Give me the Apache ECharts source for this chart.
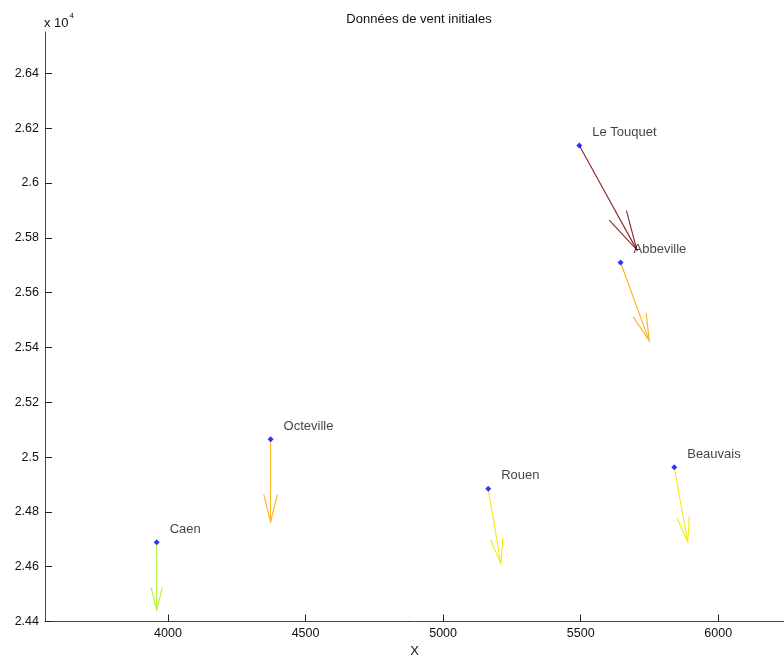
<!DOCTYPE html>
<html>
<head>
<meta charset="utf-8">
<script src="https://cdn.jsdelivr.net/npm/echarts@6/dist/echarts.min.js"></script>
<style>
  html, body { margin: 0; padding: 0; background: #fff; }
  #chart { width: 784px; height: 660px; }
</style>
</head>
<body>
<div id="chart"></div>
<script>
// stations, positions (X, Y) and wind vectors (U, V)
var stations = ['Caen', 'Octeville', 'Rouen', 'Beauvais', 'Le Touquet', 'Abbeville'];
var posX = [3959, 4373, 5164, 5840, 5495, 5645];
var posY = [24689, 25065, 24884, 24963, 26137, 25710];
var windU = [0, 0, 46, 49, 209, 104];
var windV = [-247, -301, -272, -272, -381, -285];
var arrowColors = ['#b2f52a', '#ffb41e', '#f7e812', '#f7e812', '#8c2424', '#ffae1e'];

var xTicks = [4000, 4500, 5000, 5500, 6000];
var yTicks = [24400, 24600, 24800, 25000, 25200, 25400, 25600, 25800, 26000, 26200, 26400];

var font = 'Liberation Sans, Arial, sans-serif';

var pointData = [];
var arrowData = [];
for (var i = 0; i < stations.length; i++) {
    pointData.push({ name: stations[i], value: [posX[i], posY[i]] });
    arrowData.push([posX[i], posY[i], posX[i] + windU[i], posY[i] + windV[i], i]);
}

function yLabel(v) {
    return String(parseFloat((v / 10000).toFixed(2)));
}

// quiver arrow, like matlab's quiver heads
function renderArrow(params, api) {
    var p0 = api.coord([api.value(0), api.value(1)]);
    var p1 = api.coord([api.value(2), api.value(3)]);
    var dx = p1[0] - p0[0], dy = p1[1] - p0[1];
    var a = 0.33, b = 0.25;
    var h1 = [p1[0] - a * (dx + b * dy), p1[1] - a * (dy - b * dx)];
    var h2 = [p1[0] - a * (dx - b * dy), p1[1] - a * (dy + b * dx)];
    var col = arrowColors[api.value(4)];
    return {
        type: 'group',
        children: [{
            type: 'polyline',
            shape: { points: [p0, p1] },
            style: { stroke: col, lineWidth: 1.1, fill: null }
        }, {
            type: 'polyline',
            shape: { points: [h1, p1, h2] },
            style: { stroke: col, lineWidth: 1.1, fill: null }
        }]
    };
}

var option = {
    backgroundColor: '#fff',
    animation: false,
    textStyle: { fontFamily: font },
    title: {
        text: 'Données de vent initiales',
        left: 414,
        top: 8,
        textAlign: 'center',
        textStyle: { fontSize: 13, fontWeight: 'normal', color: '#111', fontFamily: font }
    },
    graphic: [{
        type: 'text',
        left: 44,
        top: 12,
        style: {
            text: '{b|x 10}{s|4}',
            rich: {
                b: { fontSize: 13, fill: '#111', fontFamily: font, verticalAlign: 'bottom' },
                s: { fontSize: 8, fill: '#111', fontFamily: font, verticalAlign: 'top', padding: [0, 0, 10, 1] }
            }
        }
    }],
    grid: {
        left: 45,
        right: 0,
        top: 32,
        bottom: 38.5,
        containLabel: false,
        outerBoundsMode: 'none'
    },
    xAxis: {
        type: 'value',
        min: 3553,
        max: 6239,
        name: 'X',
        nameLocation: 'middle',
        nameGap: 22,
        nameTextStyle: { fontSize: 13, color: '#111' },
        splitLine: { show: false },
        axisLine: { show: true, onZero: false, lineStyle: { color: '#444', width: 1 } },
        axisTick: { show: true, inside: true, length: 7, lineStyle: { color: '#222' }, customValues: xTicks },
        axisLabel: { fontSize: 12.5, color: '#111', margin: 6, customValues: xTicks, formatter: function (v) { return String(v); } }
    },
    yAxis: {
        type: 'value',
        min: 24400,
        max: 26551,
        splitLine: { show: false },
        axisLine: { show: true, onZero: false, lineStyle: { color: '#444', width: 1 } },
        axisTick: { show: true, inside: true, length: 7, lineStyle: { color: '#222' }, customValues: yTicks },
        axisLabel: { fontSize: 12.5, color: '#111', margin: 6, customValues: yTicks, formatter: yLabel }
    },
    series: [{
        type: 'custom',
        renderItem: renderArrow,
        data: arrowData,
        encode: { x: [0, 2], y: [1, 3] },
        z: 2
    }, {
        type: 'scatter',
        data: pointData,
        symbol: 'diamond',
        symbolSize: 6,
        itemStyle: { color: '#0000ff' },
        label: {
            show: true,
            position: 'right',
            distance: 10,
            offset: [0, -13],
            formatter: '{b}',
            fontSize: 13,
            color: '#111',
            fontFamily: font
        },
        z: 3
    }]
};

var chart = echarts.init(document.getElementById('chart'));
chart.setOption(option);
</script>
</body>
</html>
